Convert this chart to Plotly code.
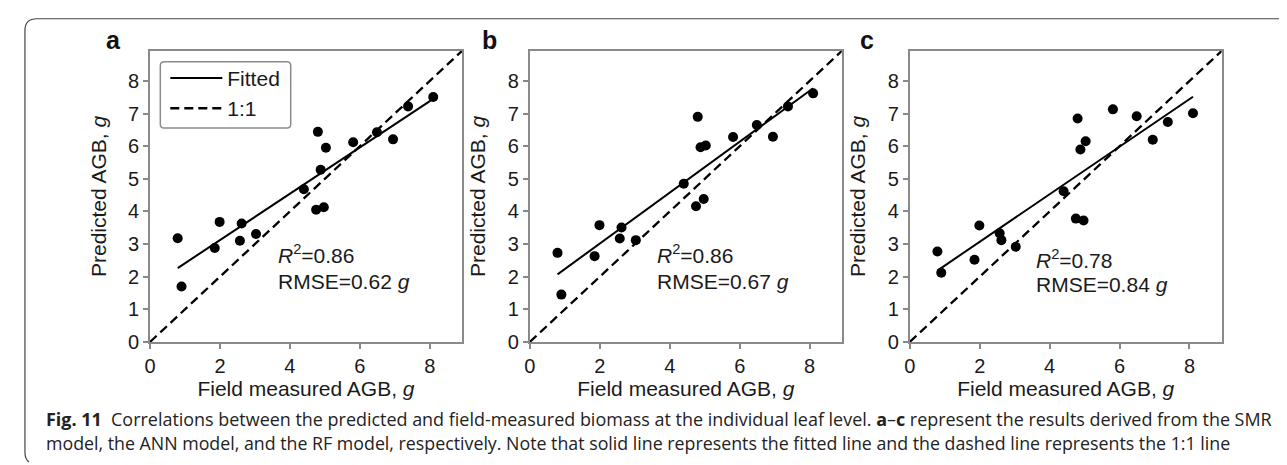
import numpy as np
import plotly.graph_objects as go

# ---------------- data ----------------
field_measured = [0.79, 0.90, 1.85, 1.99, 2.57, 2.62, 3.03, 4.40, 4.75, 4.80,
                  4.88, 4.97, 5.03, 5.81, 6.49, 6.95, 7.38, 8.10]
pred_smr = [3.18, 1.70, 2.88, 3.68, 3.10, 3.63, 3.31, 4.68, 4.05, 6.44,
            5.28, 4.13, 5.95, 6.12, 6.43, 6.21, 7.22, 7.51]
pred_ann = [2.73, 1.45, 2.63, 3.58, 3.17, 3.51, 3.12, 4.85, 4.16, 6.90,
            5.97, 4.38, 6.02, 6.28, 6.65, 6.29, 7.22, 7.62]
pred_rf = [2.77, 2.12, 2.52, 3.57, 3.33, 3.12, 2.92, 4.62, 3.78, 6.85,
           5.90, 3.72, 6.15, 7.13, 6.92, 6.20, 6.74, 7.01]
panel_labels = ["a", "b", "c"]
r2_values = ["0.86", "0.86", "0.78"]
rmse_values = ["0.62", "0.67", "0.84"]
axis_max = 8.92
x_ticks = [0, 2, 4, 6, 8]
y_ticks = [0, 1, 2, 3, 4, 5, 6, 7, 8]

W, H = 1287, 465
FONT = "Liberation Sans, Arial, sans-serif"

x_domains = [[136.7 / W, 450.0 / W], [518.3 / W, 831.7 / W], [900.0 / W, 1213.3 / W]]
y_domain = [1 - 342 / H, 1 - 44 / H]
letter_x = [100, 478, 857]
text_x = [3.6, 3.58, 3.56]
r2_y = [2.70, 2.70, 2.55]
rmse_y = [1.85, 1.85, 1.75]

fig = go.Figure()
series = [pred_smr, pred_ann, pred_rf]
for i, preds in enumerate(series):
    xa = "x" if i == 0 else f"x{i+1}"
    ya = "y" if i == 0 else f"y{i+1}"
    xs = np.array(field_measured)
    ys = np.array(preds)
    k, b = np.polyfit(xs, ys, 1)
    xf = np.array([xs.min(), xs.max()])
    fig.add_trace(go.Scatter(x=[0, axis_max], y=[0, axis_max], mode="lines",
                             line=dict(color="black", width=2.3, dash="9px,5px"),
                             name="1:1", showlegend=(i == 0), legendrank=2,
                             xaxis=xa, yaxis=ya))
    fig.add_trace(go.Scatter(x=xf, y=k * xf + b, mode="lines",
                             line=dict(color="black", width=2),
                             name="Fitted", showlegend=(i == 0), legendrank=1,
                             xaxis=xa, yaxis=ya))
    fig.add_trace(go.Scatter(x=xs, y=ys, mode="markers",
                             marker=dict(color="black", size=10),
                             showlegend=False, xaxis=xa, yaxis=ya))

layout = dict(
    width=W, height=H,
    margin=dict(l=0, r=0, t=0, b=0),
    paper_bgcolor="white", plot_bgcolor="white",
    font=dict(family=FONT, color="#1a1a1a"),
    showlegend=True,
    legend=dict(x=152 / W, y=1 - 51 / H, xanchor="left", yanchor="top",
                bgcolor="rgba(0,0,0,0)", borderwidth=0,
                font=dict(size=21, family=FONT, color="#1a1a1a"),
                itemwidth=52),
)
for i in range(3):
    sx = "" if i == 0 else str(i + 1)
    layout[f"xaxis{sx}"] = dict(
        domain=x_domains[i], range=[0, axis_max], anchor=f"y{sx}",
        tickvals=x_ticks, ticks="outside", ticklen=5, tickwidth=1.5,
        tickcolor="#888", showline=True, linecolor="#8a8a8a", linewidth=2,
        mirror=True, showgrid=False, zeroline=False,
        tickfont=dict(size=20, family=FONT, color="#1a1a1a"),
        title=dict(text="Field measured AGB, <i>g</i>", standoff=5,
                   font=dict(size=21, family=FONT, color="#1a1a1a")),
    )
    layout[f"yaxis{sx}"] = dict(
        domain=y_domain, range=[0, axis_max], anchor=f"x{sx}",
        tickvals=y_ticks, ticks="outside", ticklen=5, tickwidth=1.5,
        tickcolor="#888", showline=True, linecolor="#8a8a8a", linewidth=2,
        mirror=True, showgrid=False, zeroline=False,
        tickfont=dict(size=20, family=FONT, color="#1a1a1a"),
        title=dict(text="Predicted AGB, <i>g</i>", standoff=16,
                   font=dict(size=21, family=FONT, color="#1a1a1a")),
    )
fig.update_layout(**layout)

annotations = []
for i in range(3):
    sx = "" if i == 0 else str(i + 1)
    annotations.append(dict(x=letter_x[i] / W, y=1 - 49 / H, xref="paper", yref="paper",
                            text=f"<b>{panel_labels[i]}</b>", showarrow=False,
                            xanchor="center", yanchor="bottom",
                            font=dict(size=25, family=FONT, color="#111")))
    annotations.append(dict(x=text_x[i], y=r2_y[i], xref=f"x{sx}", yref=f"y{sx}",
                            text=f"<i>R</i><sup>2</sup>=" + r2_values[i], showarrow=False,
                            xanchor="left", yanchor="middle",
                            font=dict(size=21, family=FONT, color="#1a1a1a")))
    annotations.append(dict(x=text_x[i], y=rmse_y[i], xref=f"x{sx}", yref=f"y{sx}",
                            text="RMSE=" + rmse_values[i] + " <i>g</i>", showarrow=False,
                            xanchor="left", yanchor="middle",
                            font=dict(size=21, family=FONT, color="#1a1a1a")))

CAP = "Open Sans, Noto Sans, sans-serif"
cap1 = ("<b>Fig. 11</b>  Correlations between the predicted and field-measured biomass at the "
        "individual leaf level. <b>a</b>–<b>c</b> represent the results derived from the SMR")
cap2 = ("model, the ANN model, and the RF model, respectively. Note that solid line represents "
        "the fitted line and the dashed line represents the 1:1 line")
annotations.append(dict(x=30 / W, y=1 - 421 / H, xref="paper", yref="paper", text=cap1,
                        showarrow=False, xanchor="left", yanchor="middle",
                        font=dict(size=17.95, family=CAP, color="#222")))
annotations.append(dict(x=30 / W, y=1 - 446 / H, xref="paper", yref="paper", text=cap2,
                        showarrow=False, xanchor="left", yanchor="middle",
                        font=dict(size=17.8, family=CAP, color="#222")))
fig.update_layout(annotations=annotations)


def rounded_box(x0, y0, x1, y1, r):
    """path string in paper coords for a rounded rectangle given in pixels"""
    px = lambda v: v / W
    py = lambda v: 1 - v / H
    return (f"M {px(x0 + r)},{py(y0)} L {px(x1 - r)},{py(y0)} Q {px(x1)},{py(y0)} {px(x1)},{py(y0 + r)} "
            f"L {px(x1)},{py(y1 - r)} Q {px(x1)},{py(y1)} {px(x1 - r)},{py(y1)} "
            f"L {px(x0 + r)},{py(y1)} Q {px(x0)},{py(y1)} {px(x0)},{py(y1 - r)} "
            f"L {px(x0)},{py(y0 + r)} Q {px(x0)},{py(y0)} {px(x0 + r)},{py(y0)} Z")


# legend frame
fig.add_shape(type="path", path=rounded_box(147, 55, 278, 123, 4), xref="paper", yref="paper",
              line=dict(color="#8a8a8a", width=1.5), fillcolor="white", layer="above")

# figure frame (rounded top-left corner)
top = 1 - 11 / H
left = 11 / W
path = (f"M 1.0,{top} L {23 / W},{top} Q {left},{top} {left},{1 - 23 / H} "
        f"L {left},{1 - 455 / H} Q {left},{1 - 462 / H} {15 / W},{1 - 465 / H}")
fig.add_shape(type="path", path=path, xref="paper", yref="paper",
              line=dict(color="#444", width=1.2))

fig.write_html("out.html")
